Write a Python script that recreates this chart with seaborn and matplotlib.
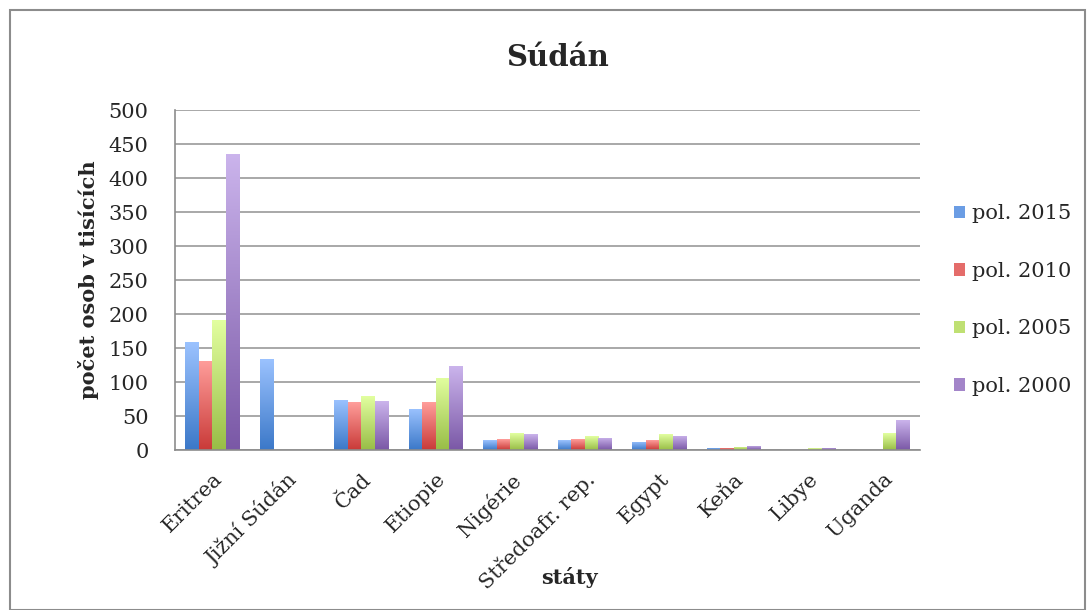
import numpy as np
import pandas as pd
import matplotlib
matplotlib.use("Agg")
import matplotlib.pyplot as plt
from matplotlib.colors import LinearSegmentedColormap
from matplotlib.patches import Patch, Rectangle
import seaborn as sns

STATES = ["Eritrea", "Jižní Súdán", "Čad", "Etiopie", "Nigérie",
          "Středoafr. rep.", "Egypt", "Keňa", "Libye", "Uganda"]
SERIES = ["pol. 2015", "pol. 2010", "pol. 2005", "pol. 2000"]
V2015 = [159, 134, 74, 61, 14, 14, 12, 3, 0, 0]
V2010 = [131, 0, 70, 70, 16, 16, 14, 3, 0, 0]
V2005 = [191, 0, 79, 106, 25, 20, 23, 4.5, 2.5, 25]
V2000 = [435, 0, 72, 123, 23, 18, 21, 6, 3, 44]

# light top / dark bottom, Excel-style gradient
TOP = ["#9cc3ff", "#ff9e9b", "#e2ffa0", "#cbb4ec"]
BOTTOM = ["#3b78c8", "#c93a38", "#98bd46", "#7a58a6"]
MID = ["#6b9de4", "#e46c6a", "#bfe073", "#a385c9"]

df = pd.DataFrame({
    "stat": STATES * 4,
    "serie": np.repeat(SERIES, len(STATES)),
    "hodnota": V2015 + V2010 + V2005 + V2000,
})

sns.set_style("white")
plt.rcParams["font.family"] = ["DejaVu Serif", "DejaVu Sans"]

fig = plt.figure(figsize=(10.92, 6.10), dpi=100)
ax = fig.add_axes([175 / 1092, 160 / 610, 745 / 1092, 340 / 610])

sns.barplot(data=df, x="stat", y="hodnota", hue="serie", hue_order=SERIES,
            palette=MID, width=0.72, ax=ax, legend=False, saturation=1)

# replace flat fills with vertical gradients
n = len(STATES)
for i, p in enumerate(ax.patches[:4 * n]):
    k = i // n
    x0, y0 = p.get_x(), p.get_y()
    w, h = p.get_width(), p.get_height()
    if not h or h <= 0:
        continue
    cmap = LinearSegmentedColormap.from_list("g", [BOTTOM[k], TOP[k]])
    grad = np.linspace(0, 1, 256).reshape(-1, 1)
    im = ax.imshow(grad, cmap=cmap, aspect="auto", origin="lower",
                   extent=[x0, x0 + w, y0, y0 + h], zorder=2)
    im.set_clip_path(p)
    p.set_facecolor("none")
    p.set_edgecolor("none")

ax.set_xlim(-0.5, n - 0.5)
ax.set_ylim(0, 500)
ax.set_yticks(range(0, 501, 50))
ax.yaxis.grid(True, color="#9a9a9a", linewidth=1.2)
ax.set_axisbelow(True)
for s in ["top", "right"]:
    ax.spines[s].set_visible(False)
for s in ["left", "bottom"]:
    ax.spines[s].set_color("#8c8c8c")
    ax.spines[s].set_linewidth(1.2)

ax.set_xticks(np.arange(-0.5, n, 1.0), minor=True)
ax.tick_params(axis="x", which="major", length=0, pad=14)
ax.tick_params(axis="x", which="minor", length=7, color="#8c8c8c", width=1.2)
ax.tick_params(axis="y", length=7, color="#8c8c8c", width=1.2, pad=12)
ax.set_xticks(range(n))
ax.set_xticklabels(STATES, rotation=45, ha="right", rotation_mode="anchor",
                   fontsize=15)
for t in ax.get_yticklabels():
    t.set_fontsize(15)

ax.set_xlabel("státy", fontsize=15, fontweight="bold")
ax.xaxis.set_label_coords((569 - 175) / 745, -(577 - 450) / 340)
ax.xaxis.label.set_va("center")
ax.set_ylabel("počet osob v tisících", fontsize=15, fontweight="bold")
ax.yaxis.set_label_coords((88 - 175) / 745, 0.5)
ax.yaxis.label.set_va("center")

fig.text(557 / 1092, 1 - 57 / 610, "Súdán", ha="center", va="center",
         fontsize=21, fontweight="bold")

handles = [Patch(facecolor=MID[k], edgecolor="none") for k in range(4)]
fig.legend(handles, SERIES, loc="center left",
           bbox_to_anchor=(935 / 1092, 1 - 300 / 610), frameon=False,
           fontsize=15, handlelength=0.55, handleheight=0.55,
           handletextpad=0.35, labelspacing=1.85)

fig.patches.append(Rectangle((10 / 1092, 0), 1075 / 1092, 600 / 610,
                             transform=fig.transFigure, fill=False,
                             edgecolor="#8c8c8c", linewidth=1.5))

fig.savefig("out.png", dpi=100)
